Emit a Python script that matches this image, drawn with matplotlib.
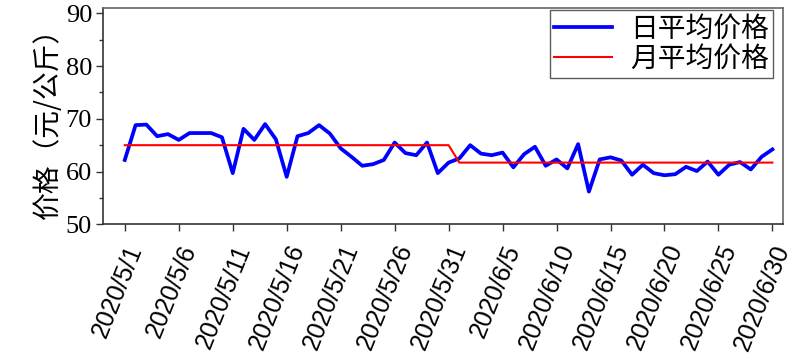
import numpy as np
import matplotlib
matplotlib.use('Agg')
import matplotlib.pyplot as plt

# daily average price (yuan/kg), 2020/5/1 .. 2020/6/30
daily_price = [
    62.2, 68.8, 68.9, 66.7, 67.1, 66.0, 67.3, 67.3, 67.3, 66.5,
    59.7, 68.1, 66.0, 69.0, 66.1, 59.0, 66.7, 67.3, 68.8, 67.2,
    64.4, 62.8, 61.1, 61.4, 62.2, 65.5, 63.5, 63.1, 65.5, 59.7,
    61.7,
    62.5, 65.0, 63.4, 63.1, 63.6, 60.8, 63.3, 64.7, 61.1, 62.3,
    60.6, 65.2, 56.2, 62.3, 62.7, 62.1, 59.4, 61.3, 59.7, 59.3,
    59.5, 60.9, 60.1, 61.9, 59.4, 61.3, 61.8, 60.4, 62.8, 64.2,
]
may_avg = 65.0
june_avg = 61.7
may_days = 31
june_days = 30

tick_labels = ['2020/5/1', '2020/5/6', '2020/5/11', '2020/5/16', '2020/5/21',
               '2020/5/26', '2020/5/31', '2020/6/5', '2020/6/10', '2020/6/15',
               '2020/6/20', '2020/6/25', '2020/6/30']
y_ticks = [50, 60, 70, 80, 90]

monthly_price = [may_avg] * may_days + [june_avg] * june_days
x = np.arange(len(daily_price))

cjk = ['Noto Sans CJK SC', 'DejaVu Sans']
plt.rcParams['font.serif'] = ['Liberation Serif', 'DejaVu Serif']

fig = plt.figure(figsize=(8, 3.63), dpi=100)
ax = fig.add_axes([0.129, 0.382, 0.850, 0.596])

ax.plot(x, daily_price, color='#0000ff', lw=2.7, label='日平均价格')
ax.plot(x, monthly_price, color='#ff0000', lw=1.5, label='月平均价格')

ax.set_xlim(-2, 61)
ax.set_ylim(50, 91)
ax.set_yticks(y_ticks)
ax.set_yticks([55, 65, 75, 85], minor=True)
ax.tick_params(axis='y', labelfontfamily='serif', labelsize=19)
ax.set_xticks(np.arange(0, 61, 5))
ax.set_xticklabels(tick_labels, rotation=68, ha='right', va='top',
                   rotation_mode='anchor', family='Liberation Sans', fontsize=18)

ax.tick_params(axis='both', which='major', direction='out', length=5, width=1, color='#333333')
ax.tick_params(axis='x', pad=7)
ax.tick_params(axis='y', pad=3)
ax.tick_params(axis='y', which='minor', direction='out', length=3, width=1, color='#333333')
for side in ['left', 'bottom']:
    ax.spines[side].set_color('#333333')
for side in ['top', 'right']:
    ax.spines[side].set_color('#666666')
for s in ax.spines.values():
    s.set_linewidth(1.2)

ax.set_ylabel('价格（元/公斤）', family=cjk, fontsize=20, labelpad=2)

leg = ax.legend(loc='upper right', bbox_to_anchor=(0.985, 0.993),
                prop={'family': cjk, 'size': 20},
                frameon=True, fancybox=False, handlelength=2.1,
                borderaxespad=0.0, labelspacing=0.0, borderpad=0.15,
                handletextpad=0.65)
leg.get_frame().set_edgecolor('#333333')
leg.get_frame().set_linewidth(1.0)

fig.savefig('out.png', dpi=100)
